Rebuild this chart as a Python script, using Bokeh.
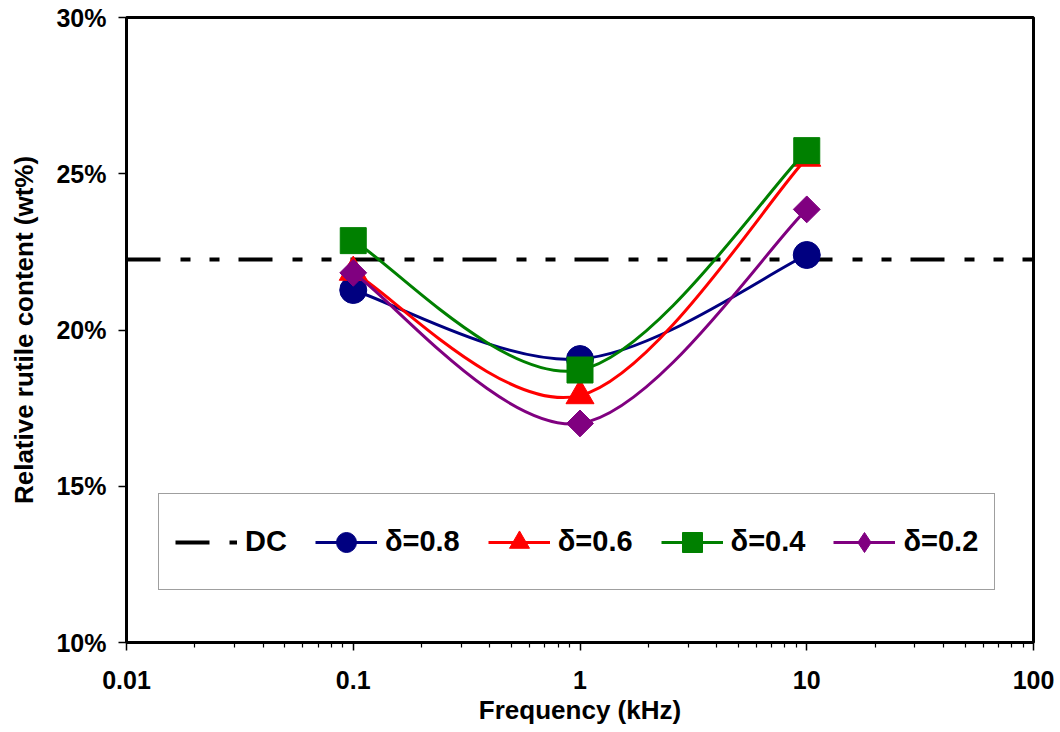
import numpy as np
from bokeh.plotting import figure
from bokeh.models import Range1d, FixedTicker, Legend, LegendItem
from bokeh.embed import file_html
from bokeh.resources import INLINE

# ---- data ----
frequency_khz = [0.1, 1, 10]
delta_08 = [21.28, 19.07, 22.40]
delta_06 = [21.85, 17.90, 25.50]
delta_04 = [22.86, 18.72, 25.74]
delta_02 = [21.83, 17.01, 23.86]
dc_value = 22.26

x_limits = [0.01, 100]
y_limits = [10, 30]
x_major_ticks = [0.01, 0.1, 1, 10, 100]
x_tick_labels = ["0.01", "0.1", "1", "10", "100"]
y_major_ticks = [10, 15, 20, 25, 30]
y_tick_labels = ["10%", "15%", "20%", "25%", "30%"]

FONT = "Liberation Sans"


def smooth_segments(xs, ys):
    """Excel-like smoothed line: cubic Bezier control points (Catmull-Rom),
    computed in log10(x) space so that they are correct on screen."""
    u = np.log10(np.asarray(xs, float))
    y = np.asarray(ys, float)
    up = np.concatenate([[u[0]], u, [u[-1]]])
    yp = np.concatenate([[y[0]], y, [y[-1]]])
    seg = dict(x0=[], y0=[], x1=[], y1=[], cx0=[], cy0=[], cx1=[], cy1=[])
    for i in range(len(u) - 1):
        a, b = i + 1, i + 2
        seg["x0"].append(10 ** up[a]); seg["y0"].append(yp[a])
        seg["x1"].append(10 ** up[b]); seg["y1"].append(yp[b])
        seg["cx0"].append(10 ** (up[a] + (up[b] - up[a - 1]) / 6))
        seg["cy0"].append(yp[a] + (yp[b] - yp[a - 1]) / 6)
        seg["cx1"].append(10 ** (up[b] - (up[b + 1] - up[a]) / 6))
        seg["cy1"].append(yp[b] - (yp[b + 1] - yp[a]) / 6)
    return seg


p = figure(width=1058, height=730, x_axis_type="log",
           x_range=Range1d(*x_limits), y_range=Range1d(*y_limits),
           output_backend="svg", toolbar_location=None,
           min_border_left=126, min_border_right=25,
           min_border_top=17, min_border_bottom=88)
p.xgrid.visible = False
p.ygrid.visible = False
p.background_fill_color = "white"
p.border_fill_color = "white"
p.outline_line_color = "black"
p.outline_line_width = 3

# axes
minor = [m * 10.0 ** k for k in range(-2, 2) for m in range(2, 10)]
p.xaxis.ticker = FixedTicker(ticks=x_major_ticks, minor_ticks=minor)
p.xaxis.major_label_overrides = {t: l for t, l in zip(x_major_ticks, x_tick_labels)}
p.yaxis.ticker = FixedTicker(ticks=y_major_ticks)
p.yaxis.major_label_overrides = {t: l for t, l in zip(y_major_ticks, y_tick_labels)}

for ax in (p.xaxis[0], p.yaxis[0]):
    ax.axis_line_width = 3
    ax.axis_line_color = "black"
    ax.major_tick_in = 0
    ax.major_tick_out = 8
    ax.major_tick_line_width = 1.5
    ax.major_tick_line_color = "black"
    ax.major_label_text_font = FONT
    ax.major_label_text_font_style = "bold"
    ax.major_label_text_font_size = "25px"
    ax.major_label_text_color = "black"
    ax.axis_label_text_font = FONT
    ax.axis_label_text_font_style = "bold"
    ax.axis_label_text_font_size = "26px"
    ax.axis_label_text_color = "black"

p.xaxis.minor_tick_in = 0
p.xaxis.minor_tick_out = 5
p.xaxis.minor_tick_line_width = 1.2
p.xaxis.minor_tick_line_color = "black"
p.yaxis.minor_tick_line_color = None
p.xaxis.major_label_standoff = 20
p.yaxis.major_label_standoff = 12
p.xaxis.axis_label = "Frequency (kHz)"
p.yaxis.axis_label = "Relative rutile content (wt%)"
p.xaxis.axis_label_standoff = 3
p.yaxis.axis_label_standoff = 14

# DC reference line
dc_r = p.line(x=x_limits, y=[dc_value, dc_value], line_color="black",
              line_width=4, line_dash="34 20 10 19 10 19")

series = [
    ("δ=0.8", delta_08, "#000080", "circle", 27, 0, "circle"),
    ("δ=0.6", delta_06, "#FF0000", "triangle", 28, 0, "triangle"),
    ("δ=0.4", delta_04, "#008000", "square", 26, 0, "square"),
    ("δ=0.2", delta_02, "#800080", "square", 19, np.pi / 4, "diamond"),
]

items = [LegendItem(label="DC", renderers=[dc_r])]
for label, vals, color, marker, size, angle, legend_marker in series:
    seg = smooth_segments(frequency_khz, vals)
    lr = p.bezier(line_color=color, line_width=3, **seg)
    legend_r = None
    if legend_marker != marker:
        # Bokeh legends ignore marker angle: a diamond glyph for the legend,
        # drawn underneath (and fully covered by) the rotated square
        legend_r = p.scatter(frequency_khz, vals, marker=legend_marker, size=size,
                             fill_color=color, line_color=color)
    sr = p.scatter(frequency_khz, vals, marker=marker, size=size, angle=angle,
                   fill_color=color, line_color=color)
    items.append(LegendItem(label=label, renderers=[lr, legend_r or sr]))

legend = Legend(items=items, location=(32, 52), orientation="horizontal",
                glyph_width=62, glyph_height=50, label_height=63,
                label_standoff=8, spacing=28, padding=16,
                label_text_font=FONT, label_text_font_style="bold",
                label_text_font_size="29px", label_text_color="black",
                border_line_color="#404040", border_line_width=1.5,
                background_fill_color="white", background_fill_alpha=1.0)
p.add_layout(legend)

open("out.html", "w").write(file_html(p, INLINE))
